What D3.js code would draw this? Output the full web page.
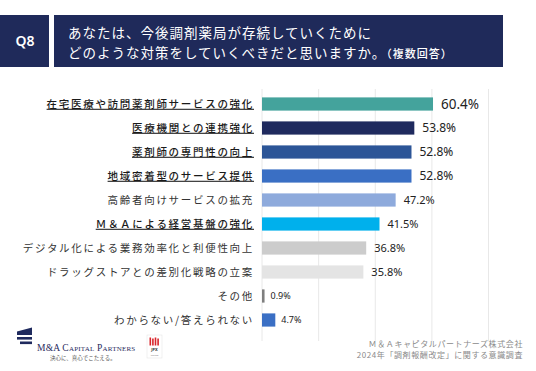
<!DOCTYPE html>
<html>
<head>
<meta charset="utf-8">
<script src="https://cdn.jsdelivr.net/npm/d3@7"></script>
<style>
  body { margin: 0; background: #fff; }
  svg { display: block; }
</style>
</head>
<body>
<div id="container"></div>
<script>
// data
const categories = [
  "在宅医療や訪問薬剤師サービスの強化",
  "医療機関との連携強化",
  "薬剤師の専門性の向上",
  "地域密着型のサービス提供",
  "高齢者向けサービスの拡充",
  "Ｍ＆Ａによる経営基盤の強化",
  "デジタル化による業務効率化と利便性向上",
  "ドラッグストアとの差別化戦略の立案",
  "その他",
  "わからない/答えられない"
];
const values = [60.4, 53.8, 52.8, 52.8, 47.2, 41.5, 36.8, 35.8, 0.9, 4.7];
const underlined = [true, true, true, true, false, true, false, false, false, false];
const barColors = ["#44a39c", "#1f2a5e", "#2c5597", "#3a6fc4", "#8eaadc", "#00b0ec",
                   "#cccccc", "#e4e4e4", "#7f7f7f", "#3a6fc4"];
const gridTicks = [0, 20, 40, 60, 80];

const w = 536, h = 371;
const jp = "'Noto Sans CJK JP', 'Noto Sans', sans-serif";
const navy = "#1f2a5a";

let viz = d3.select("#container").append("svg")
    .attr("width", w)
    .attr("height", h)
    .style("font-family", jp);

// header
viz.append("rect").attr("x", 0).attr("y", 15).attr("width", 49).attr("height", 52).attr("fill", navy);
viz.append("text").attr("x", 25).attr("y", 41).attr("dy", "0.35em")
  .attr("text-anchor", "middle").attr("fill", "#fff")
  .style("font-family", "'Noto Sans', sans-serif").style("font-size", "14px").style("font-weight", 600)
  .text("Q8");

viz.append("rect").attr("x", 54).attr("y", 15).attr("width", 449).attr("height", 52).attr("fill", navy);
viz.append("text").attr("x", 68).attr("y", 33).attr("dy", "0.35em").attr("fill", "#fff")
  .style("font-size", "13.5px").style("letter-spacing", "1px")
  .text("あなたは、今後調剤薬局が存続していくために");
let t2 = viz.append("text").attr("x", 68).attr("y", 53.5).attr("dy", "0.35em").attr("fill", "#fff")
  .style("font-size", "13.5px").style("letter-spacing", "1px");
t2.append("tspan").text("どのような対策をしていくべきだと思いますか。");
t2.append("tspan").style("font-size", "11px").style("font-weight", 500).text("（複数回答）");

// scales
let x = d3.scaleLinear().domain([0, 80]).range([262, 488.5]);
let y = d3.scaleBand().domain(categories).range([92, 332])
  .paddingInner(0.45).paddingOuter(0.225);

// grid
viz.selectAll(".grid").data(gridTicks).enter()
  .append("line")
    .attr("class", "grid")
    .attr("x1", d => x(d)).attr("x2", d => x(d))
    .attr("y1", 89).attr("y2", 341)
    .attr("stroke", "#e8e8e8").attr("stroke-width", 1);

// bars
viz.selectAll(".bar").data(values).enter()
  .append("rect")
    .attr("class", "bar")
    .attr("x", x(0))
    .attr("y", (d, i) => y(categories[i]))
    .attr("width", d => Math.max(x(d) - x(0), 2.5))
    .attr("height", y.bandwidth())
    .attr("fill", (d, i) => barColors[i]);

// value labels
function valSize(d, i) {
  if (i === 0) return 13.5;
  if (d < 10) return 9;
  if (i < 4) return 12;
  return 11;
}
viz.selectAll(".val").data(values).enter()
  .append("text")
    .attr("class", "val")
    .attr("x", d => Math.max(x(d), x(0) + 2.5) + (d < 10 ? 6 : 8))
    .attr("y", (d, i) => y(categories[i]) + y.bandwidth() / 2)
    .attr("dy", "0.36em")
    .attr("fill", "#222")
    .style("font-family", "'Noto Sans', sans-serif")
    .style("font-size", (d, i) => valSize(d, i) + "px")
    .text(d => d.toFixed(1) + "%");

// category labels
viz.selectAll(".cat").data(categories).enter()
  .append("text")
    .attr("class", "cat")
    .attr("x", 254)
    .attr("y", d => y(d) + y.bandwidth() / 2)
    .attr("dy", "0.36em")
    .attr("text-anchor", "end")
    .attr("fill", (d, i) => underlined[i] ? "#1a1a1a" : "#333")
    .style("font-size", "10.5px")
    .style("letter-spacing", "1.7px")
    .style("font-weight", (d, i) => underlined[i] ? 500 : 400)
    .style("text-decoration", (d, i) => underlined[i] ? "underline" : "none")
    .text(d => d);

// footer - logo
let logo = viz.append("g");
logo.append("path").attr("d", "M17,335 L17,331.5 L32,327.5 L32,335 Z").attr("fill", "#1f2a5e");
logo.append("rect").attr("x", 17).attr("y", 337).attr("width", 15).attr("height", 2.6).attr("fill", "#1f2a5e");
logo.append("rect").attr("x", 20).attr("y", 341.5).attr("width", 12).attr("height", 2.6).attr("fill", "#1f2a5e");
logo.append("text").attr("x", 37).attr("y", 351)
  .attr("fill", "#1f2a5e")
  .style("font-family", "'Liberation Serif', serif").style("font-size", "9.5px")
  .style("font-variant", "small-caps").style("letter-spacing", "0.2px")
  .text("M&A Capital Partners");
logo.append("text").attr("x", 50).attr("y", 360)
  .attr("fill", "#555").style("font-size", "5.5px")
  .text("決心に、真心でこたえる。");

let jpx = viz.append("g");
jpx.append("rect").attr("x", 147).attr("y", 335).attr("width", 15).attr("height", 23)
  .attr("fill", "#fff").attr("stroke", "#e6e6e6").attr("stroke-width", 0.6);
[0, 1, 2, 3].forEach(k => {
  jpx.append("rect").attr("x", 149.5 + k * 2.6).attr("y", 337.5 + (k % 2))
    .attr("width", 1.6).attr("height", 8 - (k % 2)).attr("fill", "#d9262c");
});
jpx.append("text").attr("x", 154.5).attr("y", 351).attr("text-anchor", "middle")
  .attr("fill", "#333").style("font-family", "'Noto Sans', sans-serif")
  .style("font-size", "4px").style("font-weight", 700).text("JPX");
jpx.append("text").attr("x", 154.5).attr("y", 355.5).attr("text-anchor", "middle")
  .attr("fill", "#777").style("font-family", "'Noto Sans', sans-serif")
  .style("font-size", "2.5px").text("PRIME");

// footer - source
viz.append("text").attr("x", 523).attr("y", 344.5).attr("dy", "0.35em")
  .attr("text-anchor", "end").attr("fill", "#8a8a8a")
  .style("font-size", "8px").style("letter-spacing", "0.6px")
  .text("Ｍ＆Ａキャピタルパートナーズ株式会社");
viz.append("text").attr("x", 523).attr("y", 355).attr("dy", "0.35em")
  .attr("text-anchor", "end").attr("fill", "#8a8a8a")
  .style("font-size", "8px").style("letter-spacing", "0.6px")
  .text("2024年「調剤報酬改定」に関する意識調査");
</script>
</body>
</html>
